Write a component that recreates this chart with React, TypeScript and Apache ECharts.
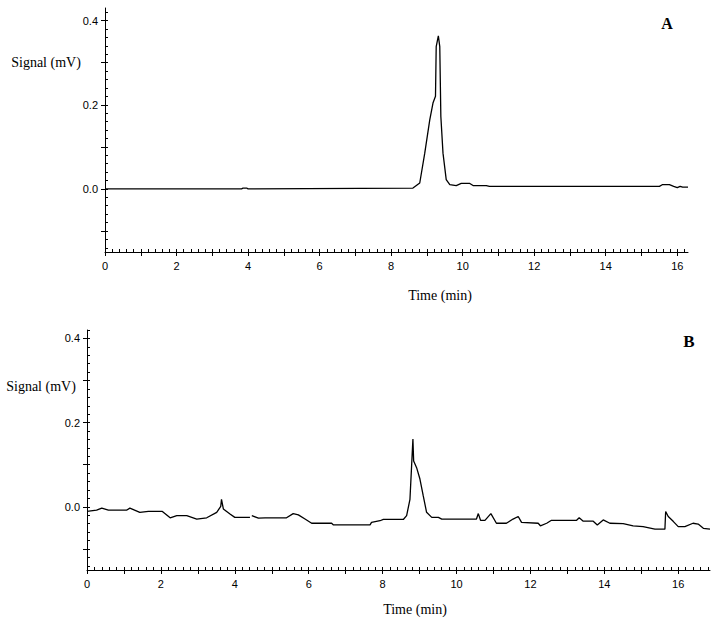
import React, { useEffect, useRef } from "react";
import * as echarts from "echarts";

// ---- Chart A data (time in min, signal in mV) ----
const timesA = [0, 3.82, 3.86, 3.96, 4.0, 8.61, 8.8, 8.94, 9.08, 9.17, 9.24, 9.26, 9.32, 9.36, 9.39, 9.45, 9.54, 9.64, 9.82, 9.96, 10.2, 10.29, 10.66, 10.75, 15.5, 15.58, 15.78, 15.9, 16.0, 16.08, 16.15, 16.3];
const signalA = [0, 0, 0.002, 0.002, 0, 0.002, 0.014, 0.085, 0.164, 0.204, 0.22, 0.338, 0.364, 0.338, 0.172, 0.085, 0.022, 0.01, 0.008, 0.013, 0.013, 0.008, 0.008, 0.006, 0.006, 0.01, 0.01, 0.006, 0.003, 0.006, 0.004, 0.004];

// ---- Chart B data ----
const timesB = [0, 0.26, 0.4, 0.58, 1.07, 1.16, 1.43, 1.66, 2.04, 2.25, 2.43, 2.7, 2.97, 3.24, 3.51, 3.62, 3.64, 3.69, 3.87, 4.0, 4.41, 4.43, 4.46, 4.64, 4.82, 5.4, 5.58, 5.72, 5.9, 6.08, 6.62, 6.67, 7.66, 7.7, 7.93, 8.02, 8.56, 8.65, 8.74, 8.78, 8.82, 8.84, 8.92, 9.01, 9.1, 9.19, 9.33, 9.51, 9.6, 10.54, 10.59, 10.65, 10.77, 10.93, 11.08, 11.35, 11.53, 11.67, 11.76, 12.21, 12.27, 12.44, 12.57, 13.25, 13.32, 13.43, 13.7, 13.81, 13.97, 14.15, 14.51, 14.78, 15.05, 15.37, 15.64, 15.66, 15.73, 15.87, 16.0, 16.18, 16.4, 16.54, 16.68, 16.86];
const signalB = [-0.011, -0.008, -0.003, -0.008, -0.008, -0.003, -0.013, -0.011, -0.011, -0.026, -0.021, -0.021, -0.029, -0.026, -0.013, 0.001, 0.018, -0.005, -0.017, -0.025, -0.025, null, -0.021, -0.027, -0.026, -0.026, -0.016, -0.019, -0.029, -0.039, -0.039, -0.043, -0.043, -0.037, -0.033, -0.03, -0.03, -0.021, 0.018, 0.089, 0.161, 0.109, 0.093, 0.066, 0.026, -0.013, -0.025, -0.025, -0.029, -0.029, -0.016, -0.032, -0.032, -0.016, -0.039, -0.039, -0.029, -0.023, -0.037, -0.039, -0.045, -0.039, -0.032, -0.032, -0.026, -0.034, -0.034, -0.043, -0.031, -0.039, -0.04, -0.045, -0.047, -0.053, -0.053, -0.011, -0.023, -0.035, -0.047, -0.047, -0.039, -0.041, -0.051, -0.053];

// ---- Tick values ----
const xLabelValues = [0, 2, 4, 6, 8, 10, 12, 14, 16];
const xMajorTicks = [0, 1, 2, 3, 4, 5, 6, 7, 8, 9, 10, 11, 12, 13, 14, 15, 16];
const xMinorTicksA = Array.from({ length: 82 }, (_, i) => +(i * 0.2).toFixed(1));
const xMinorTicksB = Array.from({ length: 85 }, (_, i) => +(i * 0.2).toFixed(1));
const yLabelValues = [0, 0.2, 0.4];
const yMajorTicks = [-0.1, 0, 0.1, 0.2, 0.3, 0.4];
const yMinorTicks = Array.from({ length: 29 }, (_, i) => +(-0.14 + i * 0.02).toFixed(2));

const X_MAX_A = 16.3;
const X_MAX_B = 16.86;
const Y_MIN = -0.15;
const Y_MAX_A = 0.43;
const Y_MAX_B = 0.42;

const pairs = (t: number[], v: (number | null)[]) => t.map((x, i) => [x, v[i]]);

const black = "#000";
const tickFont = { fontFamily: "Liberation Sans", fontSize: 11, color: "#000" };

function xAxes(grid: number, max: number, minor: number[]) {
  return [
    {
      gridIndex: grid, type: "value", min: 0, max, position: "bottom",
      axisLine: { show: true, onZero: false, lineStyle: { color: black, width: 1 } },
      axisTick: { show: true, length: 4, customValues: xMajorTicks, lineStyle: { color: black } },
      axisLabel: { show: true, customValues: xLabelValues, margin: 8, ...tickFont, formatter: (v: number) => String(v) },
      splitLine: { show: false },
    },
    {
      gridIndex: grid, type: "value", min: 0, max, position: "bottom",
      axisLine: { show: false, onZero: false },
      axisTick: { show: true, inside: true, length: 3, customValues: minor, lineStyle: { color: black } },
      axisLabel: { show: false },
      splitLine: { show: false },
    },
  ];
}

function yAxes(grid: number, max: number) {
  return [
    {
      gridIndex: grid, type: "value", min: Y_MIN, max, position: "left",
      axisLine: { show: true, onZero: false, lineStyle: { color: black, width: 1 } },
      axisTick: { show: true, length: 4, customValues: yMajorTicks, lineStyle: { color: black } },
      axisLabel: { show: true, customValues: yLabelValues, margin: 7, ...tickFont, formatter: (v: number) => v.toFixed(1) },
      splitLine: { show: false },
    },
    {
      gridIndex: grid, type: "value", min: Y_MIN, max, position: "left",
      axisLine: { show: false, onZero: false },
      axisTick: { show: true, inside: true, length: 3, customValues: yMinorTicks, lineStyle: { color: black } },
      axisLabel: { show: false },
      splitLine: { show: false },
    },
  ];
}

const serif = "'Times New Roman', 'Liberation Serif', serif";
const txt = (x: number, y: number, text: string, size: number, bold = false) => ({
  type: "text", x, y,
  style: {
    text, fontFamily: serif, fontSize: size, fontWeight: bold ? "bold" : "normal",
    fill: black, align: "center", verticalAlign: "middle",
  },
});

export default function App() {
  const ref = useRef<HTMLDivElement>(null);
  useEffect(() => {
    if (!ref.current) return;
    const chart = echarts.init(ref.current, null, { renderer: "svg" });
    chart.setOption({
      animation: false,
      backgroundColor: "#fff",
      grid: [
        { left: 105, top: 8, width: 583, height: 244 },
        { left: 87, top: 330, width: 623, height: 240 },
      ],
      xAxis: [...xAxes(0, X_MAX_A, xMinorTicksA), ...xAxes(1, X_MAX_B, xMinorTicksB)],
      yAxis: [...yAxes(0, Y_MAX_A), ...yAxes(1, Y_MAX_B)],
      series: [
        {
          type: "line", xAxisIndex: 0, yAxisIndex: 0, data: pairs(timesA, signalA),
          showSymbol: false, lineStyle: { color: black, width: 1.3 }, silent: true,
        },
        {
          type: "line", xAxisIndex: 2, yAxisIndex: 2, data: pairs(timesB, signalB),
          showSymbol: false, lineStyle: { color: black, width: 1.3 }, silent: true,
        },
      ],
      graphic: [
        txt(46, 62, "Signal (mV)", 14),
        txt(440, 295, "Time (min)", 14),
        txt(667, 23, "A", 16, true),
        txt(41, 386, "Signal (mV)", 14),
        txt(415, 609, "Time (min)", 14),
        txt(689, 341, "B", 17, true),
      ],
    });
    return () => chart.dispose();
  }, []);
  return <div ref={ref} style={{ position: "absolute", left: 0, top: 0, width: 718, height: 625 }} />;
}
